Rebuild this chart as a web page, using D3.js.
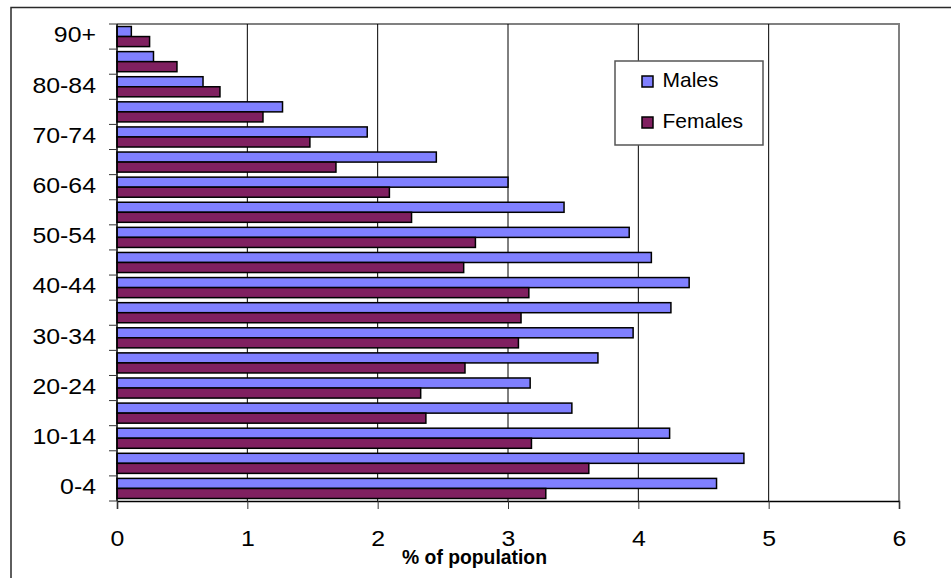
<!DOCTYPE html>
<html>
<head>
<meta charset="utf-8">
<script src="https://cdn.jsdelivr.net/npm/d3@7/dist/d3.min.js"></script>
<style>
  html, body { margin: 0; padding: 0; background: #fff; }
  svg { display: block; }
  text { font-family: "Liberation Sans", Arial, sans-serif; fill: #000; }
</style>
</head>
<body>
<svg id="chart" width="951" height="578"></svg>
<script>
// Age groups, youngest first
const ageGroups = ["0-4", "5-9", "10-14", "15-19", "20-24", "25-29", "30-34", "35-39",
  "40-44", "45-49", "50-54", "55-59", "60-64", "65-69", "70-74", "75-79", "80-84", "85-89", "90+"];
// Share of total population (%) in each age group
const males   = [4.60, 4.81, 4.24, 3.49, 3.17, 3.69, 3.96, 4.25, 4.39, 4.10,
  3.93, 3.43, 3.00, 2.45, 1.92, 1.27, 0.66, 0.28, 0.11];
const females = [3.29, 3.62, 3.18, 2.37, 2.33, 2.67, 3.08, 3.10, 3.16, 2.66,
  2.75, 2.26, 2.09, 1.68, 1.48, 1.12, 0.79, 0.46, 0.25];
const seriesNames = ["Males", "Females"];
const seriesColors = ["#8080FF", "#802060"];
const xTicks = [0, 1, 2, 3, 4, 5, 6];
const axisTitle = "% of population";

const svg = d3.select("#chart");
const plotLeft = 117, plotRight = 899, plotTop = 24, plotBottom = 501;

const x = d3.scaleLinear().domain([0, 6]).range([plotLeft, plotRight]);
const y = d3.scaleBand().domain(ageGroups.slice().reverse()).range([plotTop, plotBottom]).padding(0);
const inner = d3.scaleBand().domain(seriesNames).range([0, y.bandwidth()])
  .paddingInner(0).paddingOuter(0.25);
const color = d3.scaleOrdinal().domain(seriesNames).range(seriesColors);

// outer frame
svg.append("rect").attr("x", 11).attr("y", 7.5).attr("width", 960).attr("height", 600)
  .attr("fill", "none").attr("stroke", "#2a2a2a").attr("stroke-width", 1.5);

// plot area border (top and right in gray)
svg.append("path")
  .attr("d", `M${plotLeft},${plotTop}H${plotRight}V${plotBottom}`)
  .attr("fill", "none").attr("stroke", "#808080").attr("stroke-width", 2);

// vertical gridlines
svg.append("g").selectAll("line").data(xTicks.filter(t => t > 0 && t < 6)).join("line")
  .attr("x1", d => x(d)).attr("x2", d => x(d))
  .attr("y1", plotTop).attr("y2", plotBottom)
  .attr("stroke", "#000").attr("stroke-width", 1);

// bars
const rows = ageGroups.map((g, i) => ({ group: g, values: [males[i], females[i]] }));
const rowG = svg.append("g").selectAll("g").data(rows).join("g")
  .attr("transform", d => `translate(0,${y(d.group)})`);
rowG.selectAll("rect").data(d => d.values.map((v, j) => ({ name: seriesNames[j], value: v })))
  .join("rect")
  .attr("x", x(0))
  .attr("y", d => inner(d.name))
  .attr("width", d => x(d.value) - x(0))
  .attr("height", inner.bandwidth())
  .attr("fill", d => color(d.name))
  .attr("stroke", "#000").attr("stroke-width", 1.5);

// x axis
const xAxis = svg.append("g").attr("transform", `translate(0,${plotBottom})`)
  .call(d3.axisBottom(x).tickValues(xTicks).tickSize(8).tickPadding(21).tickFormat(d3.format("d")));
xAxis.select(".domain").attr("stroke", "#000").attr("stroke-width", 1.5);
xAxis.selectAll(".tick line").attr("stroke", "#333");
xAxis.selectAll(".tick text")
  .attr("font-size", 22).attr("font-family", "Liberation Sans, Arial, sans-serif")
  .attr("transform", "scale(1.13,1)");

// y axis line and category boundary ticks
svg.append("line").attr("x1", plotLeft).attr("x2", plotLeft).attr("y1", plotTop).attr("y2", plotBottom)
  .attr("stroke", "#000").attr("stroke-width", 1.5);
const bounds = ageGroups.map(g => y(g)).concat([y(ageGroups[0]) + y.bandwidth()]);
svg.append("g").selectAll("line").data(bounds).join("line")
  .attr("x1", plotLeft - 8).attr("x2", plotLeft).attr("y1", d => d).attr("y2", d => d)
  .attr("stroke", "#333").attr("stroke-width", 1);

// y labels on every other age group
svg.append("g").selectAll("text").data(ageGroups.filter((g, i) => i % 2 === 0)).join("text")
  .attr("transform", d => `translate(96,${y(d) + y.bandwidth() / 2 + 5.8}) scale(1.13,1)`)
  .attr("text-anchor", "end")
  .attr("font-size", 22)
  .text(d => d);

// axis title
svg.append("text").attr("x", 474.5).attr("y", 564)
  .attr("text-anchor", "middle").attr("font-size", 20).attr("font-weight", "bold")
  .attr("textLength", 145).attr("lengthAdjust", "spacingAndGlyphs")
  .text(axisTitle);

// legend
const legend = svg.append("g");
legend.append("rect").attr("x", 615).attr("y", 61).attr("width", 148).attr("height", 84)
  .attr("fill", "#fff").attr("stroke", "#555").attr("stroke-width", 1.5);
const items = legend.selectAll("g").data(seriesNames).join("g")
  .attr("transform", (d, i) => `translate(0,${i * 41})`);
items.append("rect").attr("x", 642).attr("y", 76).attr("width", 11).attr("height", 11)
  .attr("fill", d => color(d)).attr("stroke", "#000").attr("stroke-width", 1.5);
items.append("text").attr("x", 662.5).attr("y", 86.7).attr("font-size", 21).text(d => d);
</script>
</body>
</html>
